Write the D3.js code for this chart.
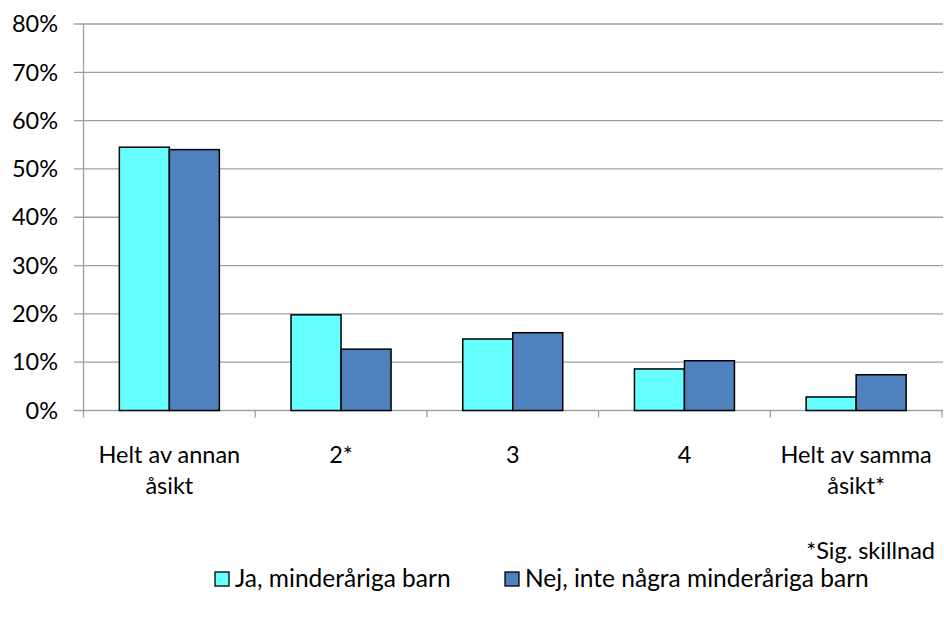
<!DOCTYPE html>
<html><head><meta charset="utf-8">
<script src="https://cdn.jsdelivr.net/npm/d3@7"></script>
<style>body{margin:0;background:#fff}svg{display:block}text{font-family:Lato,"Open Sans",sans-serif;fill:#000}</style>
</head><body>
<svg id="c" width="944" height="617"></svg>
<script>
const categories = [["Helt av annan","åsikt"],["2*"],["3"],["4"],["Helt av samma","åsikt*"]];
const seriesNames = ["Ja, minderåriga barn","Nej, inte några minderåriga barn"];
const jaValues = [54.5, 19.8, 14.8, 8.6, 2.8];
const nejValues = [54.0, 12.7, 16.1, 10.3, 7.4];
const yTicks = [0,10,20,30,40,50,60,70,80];
const colors = ["#66FFFF","#4F81BD"];
const note = "*Sig. skillnad";

const svg = d3.select("#c");
const x0 = 83.5, x1 = 942, yTop = 24, yBot = 410.5;
const x = d3.scaleBand().domain(d3.range(categories.length)).range([x0,x1]).paddingInner(0.4176).paddingOuter(0.2088);
const xs = d3.scaleBand().domain([0,1]).range([0,x.bandwidth()]);
const y = d3.scaleLinear().domain([0,80]).range([yBot,yTop]);
const fs = 23.5;

svg.append("g").selectAll("line").data(yTicks).join("line")
  .attr("x1",74).attr("x2",943).attr("y1",d=>y(d)).attr("y2",d=>y(d))
  .attr("stroke","#a0a0a0").attr("stroke-width",1.3);
svg.append("line").attr("x1",x0).attr("x2",x0).attr("y1",yTop).attr("y2",yBot)
  .attr("stroke","#a0a0a0").attr("stroke-width",1.3);
svg.append("g").selectAll("text").data(yTicks).join("text")
  .attr("x",58).attr("y",d=>y(d)).attr("dy","0.35em").attr("text-anchor","end")
  .attr("font-size",fs).text(d=>d+"%");
const step = x.step();
svg.append("g").selectAll("line").data(d3.range(categories.length+1)).join("line")
  .attr("x1",d=>x0+d*step).attr("x2",d=>x0+d*step).attr("y1",yBot).attr("y2",yBot+7)
  .attr("stroke","#a0a0a0").attr("stroke-width",1.3);

const series = [jaValues, nejValues];
series.forEach((vals,si)=>{
  svg.append("g").selectAll("rect").data(vals).join("rect")
    .attr("x",(d,i)=>x(i)+xs(si)).attr("width",xs.bandwidth())
    .attr("y",d=>y(d)).attr("height",d=>yBot-y(d))
    .attr("fill",colors[si]).attr("stroke","#000").attr("stroke-width",1.5);
});

const cl = svg.append("g").selectAll("text").data(categories).join("text")
  .attr("text-anchor","middle").attr("font-size",fs);
cl.each(function(lines,i){
  const t = d3.select(this);
  lines.forEach((l,j)=>{
    t.append("tspan").attr("x",x(i)+x.bandwidth()/2).attr("y",463+j*31).text(l);
  });
});

svg.append("text").attr("x",935).attr("y",559).attr("text-anchor","end").attr("font-size",fs).text(note);

const legX = [215, 505];
seriesNames.forEach((n,i)=>{
  svg.append("rect").attr("x",legX[i]).attr("y",572).attr("width",14).attr("height",14)
    .attr("fill",colors[i]).attr("stroke","#000").attr("stroke-width",1.3);
  svg.append("text").attr("x",legX[i]+20).attr("y",587).attr("font-size",24.5).text(n);
});
</script>
</body></html>
